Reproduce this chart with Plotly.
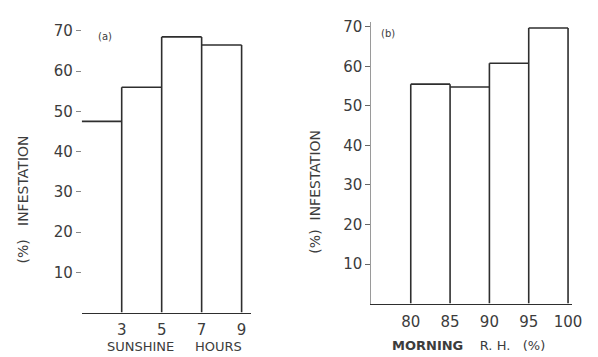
import plotly.graph_objects as go

# ---- data ----
sun_edges = [1, 3, 5, 7, 9]
sun_vals = [47.5, 56, 68.5, 66.5]
sun_ticks = [3, 5, 7, 9]

rh_edges = [80, 85, 90, 95, 100]
rh_vals = [55.5, 54.8, 60.8, 69.7]
rh_ticks = [80, 85, 90, 95, 100]

y_ticks = [10, 20, 30, 40, 50, 60, 70]

OFF = 8  # page body margin
W, H = 598 - OFF, 357 - OFF
LINE = "#2e2e2e"
TXT = "#3c3c3c"
FONT = "DejaVu Sans"


def step_path(edges, vals, draw_first):
    xs, ys = [], []
    if draw_first:
        xs += [edges[0], edges[0], None]
        ys += [0, vals[0], None]
    for i, v in enumerate(vals):
        xs += [edges[i], edges[i + 1], None]
        ys += [v, v, None]
        top = max(v, vals[i + 1]) if i + 1 < len(vals) else v
        xs += [edges[i + 1], edges[i + 1], None]
        ys += [0, top, None]
    return xs, ys


def px(x):
    return (x - OFF) / W


def py(y):
    return 1 - (y - OFF) / H


fig = go.Figure()

xa, ya = step_path(sun_edges, sun_vals, False)
fig.add_trace(go.Scatter(x=xa, y=ya, mode="lines", line=dict(color=LINE, width=1.6),
                         xaxis="x", yaxis="y", showlegend=False, hoverinfo="skip"))
xb, yb = step_path(rh_edges, rh_vals, True)
fig.add_trace(go.Scatter(x=xb, y=yb, mode="lines", line=dict(color=LINE, width=1.6),
                         xaxis="x2", yaxis="y2", showlegend=False, hoverinfo="skip"))

tickfont = dict(family=FONT, size=15, color=TXT)

fig.update_layout(
    width=W, height=H,
    margin=dict(l=0, r=0, t=0, b=0),
    paper_bgcolor="white", plot_bgcolor="white",
    xaxis=dict(domain=[px(83), px(255)], range=[1, 1 + 172 / 20.33],
               tickvals=sun_ticks, ticktext=[str(t) for t in sun_ticks],
               showgrid=False, zeroline=False, showline=True, linecolor=LINE, linewidth=1.4,
               ticks="", ticklabelstandoff=3, tickfont=tickfont, anchor="y"),
    yaxis=dict(domain=[py(312), py(20)], range=[0, 292 / 4.07],
               tickvals=y_ticks, ticktext=[str(t) for t in y_ticks],
               showgrid=False, zeroline=False, showline=False,
               ticks="outside", ticklen=5, tickcolor="#888", tickwidth=1,
               tickfont=dict(family=FONT, size=15, color=TXT), anchor="x"),
    xaxis2=dict(domain=[px(377.7), px(582)], range=[75, 75 + (582 - 377.7) / 8.0],
                tickvals=rh_ticks, ticktext=[str(t) for t in rh_ticks],
                showgrid=False, zeroline=False, showline=True, linecolor=LINE, linewidth=1.4,
                ticks="", ticklabelstandoff=4, tickfont=tickfont, anchor="y2"),
    yaxis2=dict(domain=[py(303), py(18)], range=[0, 285 / 4.0],
                tickvals=y_ticks, ticktext=[str(t) for t in y_ticks],
                showgrid=False, zeroline=False, showline=True, linecolor="#9a9a9a", linewidth=1,
                ticks="outside", ticklen=5, tickcolor="#666", tickwidth=1,
                tickfont=dict(family=FONT, size=15, color=TXT), anchor="x2"),
)

ann = [
    dict(text="(a)", x=px(107), y=py(33), size=10, angle=0),
    dict(text="(b)", x=px(395), y=py(30), size=10, angle=0),
    dict(text="SUNSHINE&nbsp;&nbsp;&nbsp;&nbsp;&nbsp;HOURS", x=px(177), y=py(346), size=13, angle=0),
    dict(text="<b>MORNING</b>&nbsp;&nbsp;&nbsp;&nbsp;R.&nbsp;H.&nbsp;&nbsp;&nbsp;(%)", x=px(476), y=py(345), size=13, angle=0),
    dict(text="(%)&nbsp;&nbsp;&nbsp;INFESTATION", x=px(23), y=py(198), size=14, angle=-90),
    dict(text="(%)&nbsp;&nbsp;INFESTATION", x=px(320), y=py(190), size=14, angle=-90),
]
for a in ann:
    fig.add_annotation(text=a["text"], x=a["x"], y=a["y"], xref="paper", yref="paper",
                       showarrow=False, textangle=a["angle"], xanchor="center", yanchor="middle",
                       font=dict(family=FONT, size=a["size"], color=TXT))

fig.write_html("out.html")
